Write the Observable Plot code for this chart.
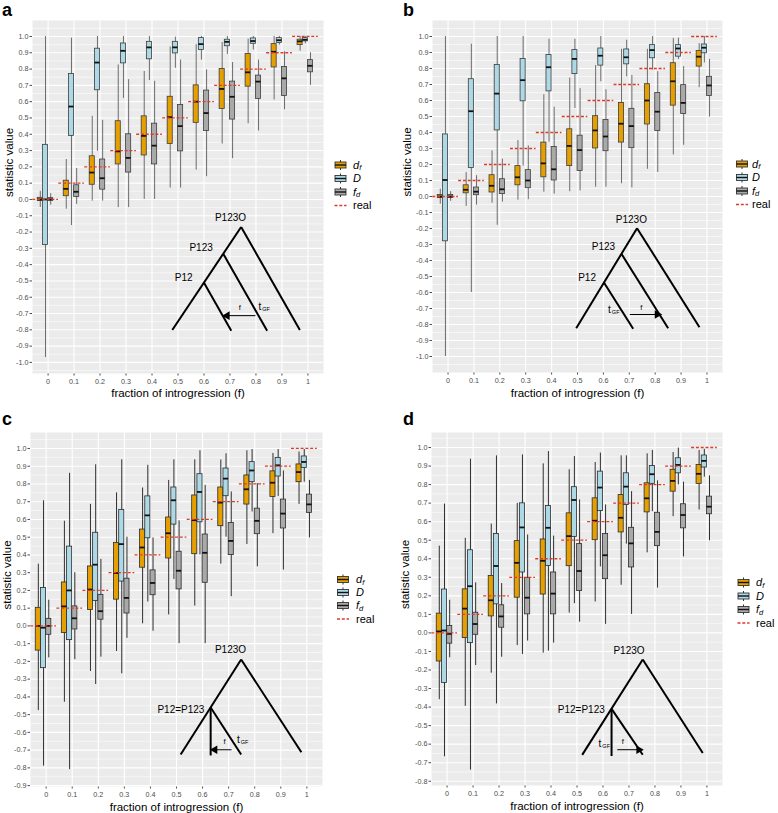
<!DOCTYPE html>
<html><head><meta charset="utf-8">
<script src="https://cdn.jsdelivr.net/npm/d3@7"></script>
<script src="https://cdn.jsdelivr.net/npm/@observablehq/plot@0.6"></script>
<style>
body{margin:0;background:#fff;}
#fig{position:relative;width:778px;height:813px;overflow:hidden;font-family:"Liberation Sans",Arial,sans-serif;}
.panel{position:absolute;}
#overlay{position:absolute;left:0;top:0;pointer-events:none;}
</style></head><body><div id="fig"></div>
<script>
// ---------- categories / ticks ----------
const fCats = [0,0.1,0.2,0.3,0.4,0.5,0.6,0.7,0.8,0.9,1];
const xTickLabels = ["0","0.1","0.2","0.3","0.4","0.5","0.6","0.7","0.8","0.9","1"];
const yTicksAB = [-1,-0.9,-0.8,-0.7,-0.6,-0.5,-0.4,-0.3,-0.2,-0.1,0,0.1,0.2,0.3,0.4,0.5,0.6,0.7,0.8,0.9,1];
const yTicksC = [-0.9,-0.8,-0.7,-0.6,-0.5,-0.4,-0.3,-0.2,-0.1,0,0.1,0.2,0.3,0.4,0.5,0.6,0.7,0.8,0.9,1];
const yTicksD = [-0.8,-0.7,-0.6,-0.5,-0.4,-0.3,-0.2,-0.1,0,0.1,0.2,0.3,0.4,0.5,0.6,0.7,0.8,0.9,1];
const statNames = ["d_f","D","f_d"];
const statColors = ["#E69F00","#ADD8E6","#A9A9A9"];
const statOffsets = [-0.03,-0.01,0.01];
const realValues = [0,0.1,0.2,0.3,0.4,0.5,0.6,0.7,0.8,0.9,1];

// ---------- panel a: [lower whisker, Q1, median, Q3, upper whisker] ----------
const aDf = [[-0.05,-0.01,0.0,0.01,0.05],[-0.06,0.02,0.065,0.115,0.245],[-0.01,0.09,0.165,0.265,0.51],[-0.05,0.215,0.295,0.48,0.825],[0.0,0.27,0.39,0.51,0.785],[0.07,0.34,0.505,0.63,0.935],[0.18,0.47,0.60,0.70,0.95],[0.34,0.555,0.678,0.80,0.963],[0.465,0.692,0.78,0.892,0.984],[0.61,0.81,0.906,0.953,1.0],[0.91,0.947,0.97,0.98,1.0]];
const aD = [[-0.97,-0.28,0.0,0.335,1.0],[-0.16,0.39,0.57,0.77,0.99],[0.295,0.67,0.84,0.925,1.0],[0.62,0.835,0.912,0.957,1.0],[0.73,0.86,0.933,0.967,1.0],[0.805,0.896,0.933,0.967,0.996],[0.855,0.917,0.953,0.99,1.0],[0.89,0.94,0.967,0.98,1.0],[0.917,0.955,0.972,0.988,1.0],[0.947,0.96,0.977,0.99,1.0],[0.955,0.97,0.98,0.99,1.0]];
const aFd = [[-0.035,-0.008,0.0,0.008,0.035],[-0.03,0.015,0.047,0.087,0.19],[-0.01,0.06,0.13,0.245,0.485],[-0.05,0.165,0.255,0.40,0.735],[0.0,0.215,0.33,0.465,0.725],[0.07,0.295,0.45,0.58,0.855],[0.14,0.42,0.53,0.668,0.795],[0.25,0.49,0.63,0.723,0.84],[0.42,0.617,0.723,0.76,0.855],[0.55,0.635,0.743,0.813,0.906],[0.70,0.78,0.82,0.855,0.90]];
// ---------- panel b ----------
const bDf = [[-0.048,-0.01,0.0,0.01,0.046],[-0.062,0.02,0.042,0.07,0.15],[-0.042,0.025,0.067,0.133,0.285],[-0.023,0.07,0.12,0.19,0.35],[0.027,0.12,0.207,0.337,0.636],[0.03,0.19,0.316,0.42,0.74],[0.058,0.30,0.413,0.502,0.818],[0.08,0.337,0.455,0.585,0.92],[0.17,0.45,0.6,0.702,0.92],[0.26,0.568,0.72,0.833,0.988],[0.68,0.812,0.874,0.909,0.955]];
const bD = [[-1.0,-0.28,0.103,0.388,1.0],[-0.6,0.178,0.533,0.733,0.952],[-0.18,0.413,0.643,0.822,1.0],[0.19,0.595,0.727,0.86,1.0],[0.34,0.657,0.808,0.884,0.983],[0.55,0.765,0.86,0.915,0.983],[0.717,0.818,0.88,0.925,1.0],[0.748,0.826,0.87,0.919,0.977],[0.79,0.864,0.915,0.946,1.0],[0.857,0.874,0.925,0.946,0.99],[0.835,0.895,0.93,0.95,1.0]];
const bFd = [[-0.03,-0.01,0.0,0.01,0.03],[-0.054,0.008,0.03,0.056,0.13],[-0.035,0.015,0.045,0.108,0.233],[-0.02,0.052,0.1,0.165,0.316],[0.015,0.10,0.17,0.31,0.558],[0.035,0.16,0.29,0.38,0.674],[0.058,0.283,0.375,0.478,0.667],[0.054,0.302,0.44,0.548,0.756],[0.15,0.41,0.53,0.647,0.78],[0.32,0.516,0.585,0.696,0.812],[0.496,0.628,0.694,0.748,0.857]];
// ---------- panel c ----------
const cDf = [[-0.477,-0.139,0.0,0.102,0.348],[-0.43,-0.04,0.11,0.245,0.59],[-0.257,0.09,0.205,0.335,0.685],[-0.144,0.148,0.298,0.468,0.75],[0.012,0.328,0.442,0.543,0.777],[0.062,0.38,0.522,0.611,0.82],[0.112,0.404,0.596,0.735,0.936],[0.348,0.562,0.695,0.78,0.935],[0.459,0.684,0.77,0.848,0.987],[0.52,0.727,0.807,0.871,0.972],[0.685,0.81,0.867,0.91,0.98]];
const cD = [[-0.79,-0.238,-0.01,0.214,0.705],[-0.81,-0.08,0.2,0.447,0.86],[-0.33,0.14,0.345,0.525,0.908],[-0.27,0.25,0.461,0.654,0.936],[0.135,0.494,0.623,0.73,0.905],[0.262,0.571,0.708,0.78,0.936],[0.40,0.584,0.755,0.855,0.987],[0.50,0.731,0.83,0.887,0.97],[0.642,0.81,0.876,0.923,0.994],[0.73,0.842,0.905,0.947,0.994],[0.81,0.89,0.924,0.955,0.994]];
const cFd = [[-0.18,-0.05,0.0,0.04,0.145],[-0.19,-0.02,0.043,0.11,0.30],[-0.176,0.035,0.083,0.175,0.375],[-0.07,0.07,0.158,0.266,0.5],[-0.03,0.173,0.242,0.313,0.496],[-0.1,0.206,0.311,0.418,0.592],[-0.1,0.243,0.412,0.515,0.792],[0.165,0.399,0.479,0.58,0.755],[0.333,0.517,0.592,0.661,0.802],[0.315,0.549,0.633,0.712,0.873],[0.496,0.637,0.685,0.74,0.82]];
// ---------- panel d ----------
const dDf = [[-0.36,-0.154,0.008,0.104,0.468],[-0.396,-0.028,0.131,0.235,0.51],[-0.217,0.089,0.176,0.307,0.587],[-0.068,0.19,0.378,0.495,0.699],[-0.109,0.207,0.389,0.504,0.912],[0.107,0.36,0.522,0.645,0.88],[0.167,0.50,0.605,0.726,0.919],[0.257,0.542,0.621,0.744,0.955],[0.432,0.65,0.726,0.807,0.966],[0.627,0.762,0.82,0.88,0.973],[0.663,0.804,0.858,0.906,0.984]];
const dD = [[-0.668,-0.27,0.013,0.234,0.695],[-0.74,-0.055,0.252,0.446,0.937],[-0.383,0.154,0.361,0.533,0.955],[-0.116,0.326,0.569,0.699,0.96],[-0.098,0.361,0.567,0.685,0.978],[0.158,0.518,0.717,0.786,0.951],[0.356,0.657,0.784,0.87,0.97],[0.479,0.69,0.789,0.861,0.955],[0.654,0.804,0.856,0.90,0.984],[0.798,0.861,0.906,0.942,0.997],[0.84,0.892,0.928,0.957,0.99]];
const dFd = [[-0.134,-0.058,-0.005,0.037,0.176],[-0.176,-0.01,0.048,0.109,0.27],[-0.131,0.028,0.089,0.149,0.266],[-0.044,0.10,0.19,0.297,0.528],[-0.055,0.10,0.212,0.326,0.522],[0.058,0.226,0.334,0.479,0.717],[0.046,0.29,0.419,0.533,0.69],[0.10,0.353,0.483,0.567,0.762],[0.242,0.468,0.545,0.648,0.82],[0.41,0.564,0.636,0.694,0.813],[0.497,0.64,0.681,0.735,0.847]];

// ---------- tree diagrams (data units: x = f, y = statistic value) ----------
const aTree = [{x1:0.743,y1:-0.169,x2:0.478,y2:-0.801},{x1:0.743,y1:-0.169,x2:0.969,y2:-0.801},{x1:0.674,y1:-0.333,x2:0.843,y2:-0.805},{x1:0.600,y1:-0.511,x2:0.705,y2:-0.805}];
const aArrow = {x1:0.798,y1:-0.713,x2:0.689,y2:-0.713};
const aLabels = [{x:0.702,y:-0.112,t:"P123O"},{x:0.589,y:-0.296,t:"P123"},{x:0.522,y:-0.481,t:"P12"}];
const aLabelsEnd = [];
const aF = {x:0.738,y:-0.663}, aT = {x:0.815,y:-0.66};

const bTree = [{x1:0.730,y1:-0.198,x2:0.495,y2:-0.823},{x1:0.730,y1:-0.198,x2:0.971,y2:-0.817},{x1:0.670,y1:-0.359,x2:0.850,y2:-0.823},{x1:0.602,y1:-0.5375,x2:0.715,y2:-0.827}];
const bArrow = {x1:0.702,y1:-0.7375,x2:0.808,y2:-0.7375};
const bLabels = [{x:0.708,y:-0.144,t:"P123O"},{x:0.60,y:-0.317,t:"P123"},{x:0.537,y:-0.508,t:"P12"}];
const bLabelsEnd = [];
const bF = {x:0.746,y:-0.692}, bT = {x:0.623,y:-0.708};

const cTree = [{x1:0.748,y1:-0.189,x2:0.516,y2:-0.725},{x1:0.748,y1:-0.189,x2:0.979,y2:-0.712},{x1:0.631,y1:-0.46,x2:0.631,y2:-0.73},{x1:0.631,y1:-0.46,x2:0.748,y2:-0.725}];
const cArrow = {x1:0.711,y1:-0.698,x2:0.647,y2:-0.698};
const cLabels = [{x:0.707,y:-0.135,t:"P123O"}];
const cLabelsEnd = [{x:0.607,y:-0.47,t:"P12=P123"}];
const cF = {x:0.684,y:-0.653}, cT = {x:0.737,y:-0.642};

const dTree = [{x1:0.753,y1:-0.143,x2:0.52,y2:-0.658},{x1:0.753,y1:-0.143,x2:0.984,y2:-0.648},{x1:0.633,y1:-0.41,x2:0.633,y2:-0.664},{x1:0.633,y1:-0.41,x2:0.753,y2:-0.657}];
const dArrow = {x1:0.655,y1:-0.63,x2:0.738,y2:-0.63};
const dLabels = [{x:0.70,y:-0.095,t:"P123O"}];
const dLabelsEnd = [{x:0.607,y:-0.415,t:"P12=P123"}];
const dF = {x:0.676,y:-0.586}, dT = {x:0.588,y:-0.596};

const FONT = "Liberation Sans, Arial, sans-serif";
const RED = "#DE3A2A";

function rowsOf(series) {
  const rows = [];
  series.forEach((arr, s) => arr.forEach((v, i) => rows.push({
    stat: statNames[s], s, f: fCats[i], pos: fCats[i] + statOffsets[s],
    lo: v[0], q1: v[1], med: v[2], q3: v[3], hi: v[4]
  })));
  return rows;
}

function makePanel(cfg) {
  const rows = rowsOf(cfg.series);
  const [y0, y1] = cfg.yDomain;
  const minor = [cfg.yTicks[0] - 0.05, ...cfg.yTicks.map(t => t + 0.05)].filter(v => v > y0 && v < y1);
  const hw = 0.0098;
  const marks = [
    Plot.frame({fill: "#EBEBEB", stroke: "none"}),
    Plot.ruleY(minor, {stroke: "white", strokeWidth: 0.55}),
    Plot.ruleY(cfg.yTicks, {stroke: "white", strokeWidth: 1.1}),
    Plot.ruleX(fCats, {stroke: "white", strokeWidth: 1.1}),
    Plot.ruleX(rows, {x: "pos", y1: "lo", y2: "hi", stroke: cfg.whisker, strokeWidth: 0.9})
  ];
  statNames.forEach((name, s) => {
    marks.push(Plot.rect(rows.filter(r => r.s === s), {
      x1: d => d.pos - hw, x2: d => d.pos + hw, y1: "q1", y2: "q3",
      fill: statColors[s], stroke: cfg.boxStroke, strokeWidth: 0.8
    }));
  });
  marks.push(
    Plot.ruleY(rows, {y: "med", x1: d => d.pos - hw, x2: d => d.pos + hw, stroke: "#111", strokeWidth: 1.8}),
    Plot.ruleY(realValues, {y: d => d, x1: d => d - 0.059, x2: d => d + 0.04, stroke: RED, strokeWidth: 1.3, strokeDasharray: "3,1.8"}),
    Plot.link(cfg.tree, {x1: "x1", y1: "y1", x2: "x2", y2: "y2", stroke: "black", strokeWidth: 2}),
    Plot.link([cfg.arrow], {x1: "x1", y1: "y1", x2: "x2", y2: "y2", stroke: "black", strokeWidth: 1}),
    Plot.dot([cfg.arrow], {x: "x2", y: "y2", symbol: "triangle", r: 3.2, fill: "black", stroke: "none",
      rotate: cfg.arrow.x2 < cfg.arrow.x1 ? -90 : 90}),
    Plot.text(cfg.labels, {x: "x", y: "y", text: "t", fill: "black", fontSize: 10, fontFamily: FONT}),
    Plot.text(cfg.labelsEnd, {x: "x", y: "y", text: "t", fill: "black", fontSize: 10, fontFamily: FONT, textAnchor: "end"}),
    Plot.text([cfg.fLab], {x: "x", y: "y", text: () => "f", fill: "black", fontSize: 7.5, fontFamily: FONT}),
    Plot.text([cfg.tLab], {x: "x", y: "y", text: () => "t", fill: "black", fontSize: 10, fontFamily: FONT}),
    Plot.text([cfg.tLab], {x: "x", y: "y", text: () => "GF", fill: "black", fontSize: 5.5, fontFamily: FONT, textAnchor: "start", dx: 2.5, dy: 2.5}),
    Plot.text(["fraction of introgression (f)"], {frameAnchor: "bottom", lineAnchor: "middle", text: d => d, dy: cfg.xTitleDy, fill: "black", fontSize: 11.5, fontFamily: FONT}),
    Plot.text(["statistic value"], {frameAnchor: "left", lineAnchor: "middle", text: d => d, rotate: -90, dx: cfg.yTitleDx, fill: "black", fontSize: 11.5, fontFamily: FONT})
  );
  const svg = Plot.plot({
    width: cfg.width, height: cfg.height,
    marginLeft: cfg.ml, marginRight: cfg.mr, marginTop: cfg.mt, marginBottom: cfg.mb,
    style: {fontFamily: FONT, fontSize: "7.2px", color: "#4D4D4D", background: "transparent", overflow: "visible"},
    x: {domain: [-0.06, 1.06], ticks: fCats, tickFormat: d => xTickLabels[fCats.indexOf(d)], tickSize: 2.5, tickPadding: 2.5, label: null},
    y: {domain: cfg.yDomain, ticks: cfg.yTicks, tickFormat: d => d.toFixed(1), tickSize: 2.5, tickPadding: 1.5, label: null},
    marks
  });
  const div = document.createElement("div");
  div.className = "panel";
  div.style.left = cfg.left + "px";
  div.style.top = cfg.top + "px";
  div.appendChild(svg);
  document.getElementById("fig").appendChild(div);
}

makePanel({left: 0, top: 0, width: 330, height: 400, ml: 32, mr: 7, mt: 20, mb: 27,
  yDomain: [-1.068, 1.098], yTicks: yTicksAB, series: [aDf, aD, aFd],
  whisker: "#5e5e5e", boxStroke: "#3d3d3d", xTitleDy: 20, yTitleDx: -23,
  tree: aTree, arrow: aArrow, labels: aLabels, labelsEnd: aLabelsEnd, fLab: aF, tLab: aT});
makePanel({left: 390, top: 0, width: 340, height: 400, ml: 42, mr: 8, mt: 20, mb: 28,
  yDomain: [-1.1, 1.1], yTicks: yTicksAB, series: [bDf, bD, bFd],
  whisker: "#5e5e5e", boxStroke: "#3d3d3d", xTitleDy: 21, yTitleDx: -25,
  tree: bTree, arrow: bArrow, labels: bLabels, labelsEnd: bLabelsEnd, fLab: bF, tLab: bT});
makePanel({left: 0, top: 400, width: 330, height: 413, ml: 30, mr: 8, mt: 32, mb: 27,
  yDomain: [-0.905, 1.09], yTicks: yTicksC, series: [cDf, cD, cFd],
  whisker: "#1a1a1a", boxStroke: "#2b2b2b", xTitleDy: 21, yTitleDx: -23,
  tree: cTree, arrow: cArrow, labels: cLabels, labelsEnd: cLabelsEnd, fLab: cF, tLab: cT});
makePanel({left: 390, top: 400, width: 340, height: 413, ml: 41, mr: 8, mt: 32, mb: 28,
  yDomain: [-0.823, 1.081], yTicks: yTicksD, series: [dDf, dD, dFd],
  whisker: "#1a1a1a", boxStroke: "#2b2b2b", xTitleDy: 21, yTitleDx: -26,
  tree: dTree, arrow: dArrow, labels: dLabels, labelsEnd: dLabelsEnd, fLab: dF, tLab: dT});

// ---------- overlay: panel letters and legends ----------
const NS = "http://www.w3.org/2000/svg";
const ov = document.createElementNS(NS, "svg");
ov.setAttribute("id", "overlay");
ov.setAttribute("width", 778);
ov.setAttribute("height", 813);
let html = "";
const letters = [["a", 2, 16], ["b", 403, 16], ["c", 2, 424.5], ["d", 403, 425]];
letters.forEach(([t, x, y]) => {
  html += `<text x="${x}" y="${y}" font-family="${FONT}" font-weight="bold" font-size="18" fill="black">${t}</text>`;
});
const legendItems = [
  {html: `d<tspan font-size="7.5" dy="1.5">f</tspan>`, italic: true},
  {html: `D`, italic: true},
  {html: `f<tspan font-size="7.5" dy="1.5">d</tspan>`, italic: true},
  {html: `real`, italic: false}
];
const legends = [
  {gx: 334.5, tx: 353, ys: [165, 178.5, 192, 205.5]},
  {gx: 736, tx: 752, ys: [164, 177.5, 191, 204.5]},
  {gx: 337, tx: 356, ys: [579.5, 592.5, 605.5, 619]},
  {gx: 737.5, tx: 756, ys: [582.5, 596, 609.5, 623]}
];
legends.forEach(L => {
  L.ys.forEach((cy, k) => {
    if (k < 3) {
      html += `<line x1="${L.gx + 6}" x2="${L.gx + 6}" y1="${cy - 5}" y2="${cy + 5}" stroke="#333" stroke-width="1"/>`;
      html += `<rect x="${L.gx + 0.5}" y="${cy - 3}" width="11" height="6" fill="${statColors[k]}" stroke="#333" stroke-width="0.9"/>`;
      html += `<line x1="${L.gx + 0.5}" x2="${L.gx + 11.5}" y1="${cy}" y2="${cy}" stroke="#111" stroke-width="1.4"/>`;
    } else {
      html += `<line x1="${L.gx}" x2="${L.gx + 12}" y1="${cy}" y2="${cy}" stroke="${RED}" stroke-width="1.5" stroke-dasharray="3,1.8"/>`;
    }
    const it = legendItems[k];
    html += `<text x="${L.tx}" y="${cy + 3.8}" font-family="${FONT}" font-size="11" ${it.italic ? 'font-style="italic"' : ''} fill="black">${it.html}</text>`;
  });
});
ov.innerHTML = html;
document.getElementById("fig").appendChild(ov);
</script>
</body></html>
